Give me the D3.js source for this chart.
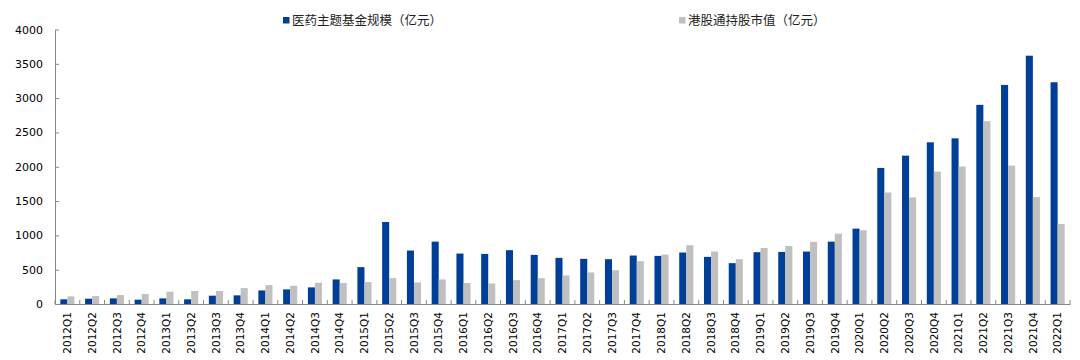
<!DOCTYPE html>
<html><head><meta charset="utf-8">
<script src="https://cdn.jsdelivr.net/npm/d3@7/dist/d3.min.js"></script>
<style>body{margin:0;background:#fff;} svg{display:block;}</style>
</head><body>
<svg id="c" width="1080" height="360"></svg>
<script>
const categories = ["2012Q1","2012Q2","2012Q3","2012Q4","2013Q1","2013Q2","2013Q3","2013Q4","2014Q1","2014Q2","2014Q3","2014Q4","2015Q1","2015Q2","2015Q3","2015Q4","2016Q1","2016Q2","2016Q3","2016Q4","2017Q1","2017Q2","2017Q3","2017Q4","2018Q1","2018Q2","2018Q3","2018Q4","2019Q1","2019Q2","2019Q3","2019Q4","2020Q1","2020Q2","2020Q3","2020Q4","2021Q1","2021Q2","2021Q3","2021Q4","2022Q1"];
const fundSize = [68,77,82,63,82,68,121,126,198,213,242,358,537,1195,779,909,735,730,784,716,672,658,653,706,701,750,687,595,755,759,764,909,1098,1983,2162,2356,2414,2902,3192,3618,3231];
const hkHolding = [111,116,130,145,179,189,189,232,276,266,310,305,319,377,314,358,305,300,348,377,416,460,493,624,721,856,764,653,817,846,905,1025,1074,1625,1553,1930,2003,2665,2017,1558,1166];
const yTicks = [0,500,1000,1500,2000,2500,3000,3500,4000];
const seriesNames = ["医药主题基金规模（亿元）","港股通持股市值（亿元）"];
const colors = ["#003f98","#c0c0c0"];

(function(){
const svg = d3.select("#c");
const L = 55, R = 1070, T = 29.5, B = 304;
const x = d3.scaleBand().domain(categories).range([L, R]).padding(0);
const y = d3.scaleLinear().domain([0, 4000]).range([B, T]);
const bw = x.bandwidth();
const grp = bw * 0.57;
const x1 = d3.scaleBand().domain([0,1]).range([(bw-grp)/2, (bw-grp)/2 + grp]).padding(0);

const series = [fundSize, hkHolding];
series.forEach((vals, si) => {
  svg.append("g").selectAll("rect").data(vals).join("rect")
    .attr("x", (d,i) => x(categories[i]) + x1(si))
    .attr("width", x1.bandwidth())
    .attr("y", d => y(d))
    .attr("height", d => B - y(d))
    .attr("fill", colors[si]);
});

const axisColor = "#888";
const ya = svg.append("g").attr("transform", `translate(${L},0)`)
  .call(d3.axisLeft(y).tickValues(yTicks).tickSize(0).tickPadding(12).tickFormat(d3.format("d")));
ya.select(".domain").attr("stroke", axisColor);
ya.selectAll("text").attr("font-family","DejaVu Sans, Verdana, sans-serif").attr("font-size","11px").attr("fill","#000");
ya.selectAll(".tick").append("line").attr("x1",0).attr("x2",4).attr("stroke",axisColor);

const xa = svg.append("g").attr("transform", `translate(0,${B})`)
  .call(d3.axisBottom(x).tickSize(0).tickPadding(0));
xa.select(".domain").attr("stroke", axisColor);
xa.selectAll(".tick text")
  .attr("font-family","DejaVu Sans, Verdana, sans-serif").attr("font-size","10.5px").attr("fill","#000")
  .attr("text-anchor","end").attr("dy","0.35em").attr("y",0)
  .attr("transform","translate(0,8) rotate(-90)");
const bounds = categories.map(c => x(c)).concat([R]);
xa.append("g").selectAll("line").data(bounds).join("line")
  .attr("x1", d => d).attr("x2", d => d).attr("y1", 0).attr("y2", -4)
  .attr("stroke", axisColor);

const legendPos = [[283, 17], [679, 17]];
seriesNames.forEach((n, i) => {
  const g = svg.append("g").attr("transform", `translate(${legendPos[i][0]},${legendPos[i][1]})`);
  g.append("rect").attr("width",6.5).attr("height",6.5).attr("fill",colors[i]);
  g.append("text").attr("x",9).attr("y",3.5).attr("dy","0.35em")
    .attr("font-family","Noto Sans CJK SC, sans-serif").attr("font-size","12.5px").attr("fill","#222")
    .text(n);
});
})();
</script>
</body></html>
